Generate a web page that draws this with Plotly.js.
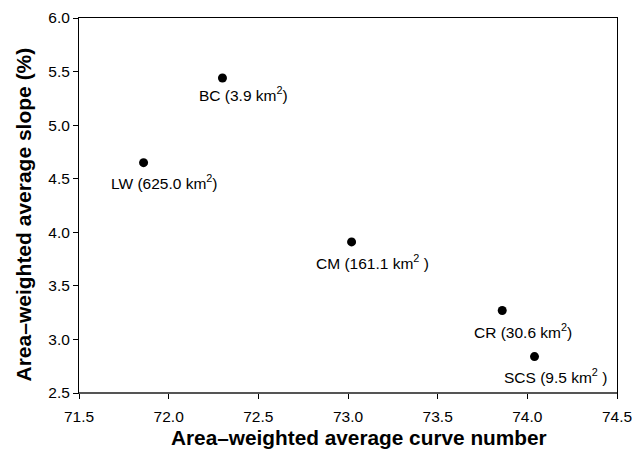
<!DOCTYPE html>
<html>
<head>
<meta charset="utf-8">
<script src="https://cdn.plot.ly/plotly-3.0.1.min.js"></script>
<style>html,body{margin:0;padding:0;background:#fff;}#chart{width:635px;height:451px;}</style>
</head>
<body>
<div id="chart"></div>
<script>
var sites = ["BC", "LW", "CM", "CR", "SCS"];
var labels = ["BC (3.9 km<sup>2</sup>)", "LW (625.0 km<sup>2</sup>)", "CM (161.1 km<sup>2</sup> )", "CR (30.6 km<sup>2</sup>)", "SCS (9.5 km<sup>2</sup> )"];
var curveNumber = [72.30, 71.86, 73.02, 73.86, 74.04];
var slope = [5.44, 4.65, 3.91, 3.27, 2.84];
var xTitle = "Area\u2013weighted average curve number";
var yTitle = "Area\u2013weighted average slope (%)";

var font = "Liberation Sans, Arial, Helvetica, sans-serif";
var labelShiftY = [-16, -19, -20, -20, -19];

var trace = {
  x: curveNumber, y: slope, mode: "markers", type: "scatter",
  marker: {color: "#000", size: 9},
  text: sites, hoverinfo: "x+y+text"
};

var annotations = curveNumber.map(function(xv, i){
  return {x: xv, y: slope[i], text: labels[i], showarrow: false,
    xshift: 21, yshift: labelShiftY[i], font: {family: font, size: 15.5, color: "#000"}};
});
annotations.push({xref: "paper", yref: "paper", x: 0.5, y: 0, xanchor: "center", yanchor: "middle",
  xshift: 11, yshift: -44, showarrow: false, text: xTitle,
  font: {family: font, size: 20.8, color: "#000", weight: "bold"}});
annotations.push({xref: "paper", yref: "paper", x: 0, y: 0.5, xanchor: "center", yanchor: "middle",
  xshift: -56, yshift: -9, textangle: -90, showarrow: false, text: yTitle,
  font: {family: font, size: 21, color: "#000", weight: "bold"}});

var axisCommon = {
  showgrid: false, zeroline: false, showline: true, linecolor: "#000", linewidth: 1,
  mirror: true, ticks: "outside", ticklen: 5, tickwidth: 1, tickcolor: "#000",
  tickfont: {family: font, size: 15.5, color: "#000"}
};

var layout = {
  width: 635, height: 451,
  margin: {l: 79, r: 18, t: 18, b: 58},
  paper_bgcolor: "#fff", plot_bgcolor: "#fff",
  showlegend: false,
  xaxis: Object.assign({}, axisCommon, {
    range: [71.5, 74.5], tickvals: [71.5,72,72.5,73,73.5,74,74.5],
    ticktext: ["71.5","72.0","72.5","73.0","73.5","74.0","74.5"],
    ticklabelstandoff: 4
  }),
  yaxis: Object.assign({}, axisCommon, {
    range: [2.5, 6.0], tickvals: [2.5,3,3.5,4,4.5,5,5.5,6],
    ticktext: ["2.5","3.0","3.5","4.0","4.5","5.0","5.5","6.0"]
  }),
  shapes: [{type: "line", xref: "paper", yref: "paper", x0: 0, x1: 1, y0: 0, y1: 0,
    line: {color: "#555", width: 2}}],
  annotations: annotations
};

Plotly.newPlot("chart", [trace], layout, {displayModeBar: false, staticPlot: true});
</script>
</body>
</html>
